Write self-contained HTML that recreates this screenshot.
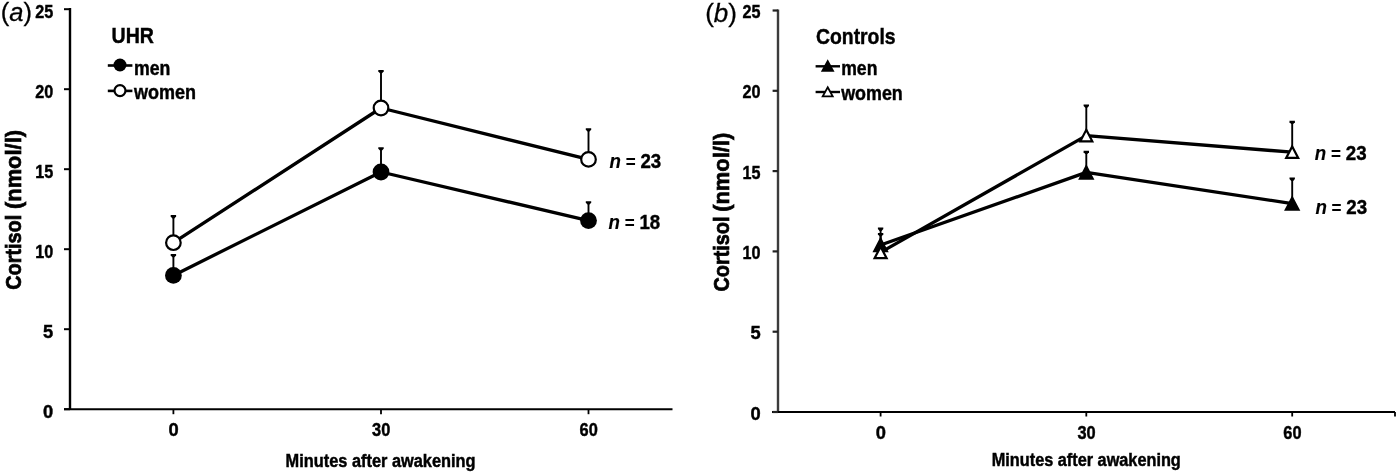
<!DOCTYPE html>
<html lang="en"><head><meta charset="utf-8"><title>Cortisol awakening response</title>
<style>html,body{margin:0;padding:0;background:#fff;}svg{display:block;filter:blur(0.45px);}text{font-family:'Liberation Sans', sans-serif;fill:#000;}</style></head><body>
<svg width="1400" height="474" viewBox="0 0 1400 474">
<rect width="1400" height="474" fill="#fff"/>
<g id="chart-a">
<path d="M70 8V409.2" stroke="#000" stroke-width="2.4" fill="none"/>
<path d="M64 409.2H672.5" stroke="#000" stroke-width="2" fill="none"/>
<path d="M64 409.2H70" stroke="#000" stroke-width="2"/>
<text x="53.2" y="417.8" font-size="19" text-anchor="end" font-weight="700" stroke="#000" stroke-width="0.45" textLength="10.2" lengthAdjust="spacingAndGlyphs" >0</text>
<path d="M64 329.2H70" stroke="#000" stroke-width="2"/>
<text x="53.2" y="337.8" font-size="19" text-anchor="end" font-weight="700" stroke="#000" stroke-width="0.45" textLength="10.2" lengthAdjust="spacingAndGlyphs" >5</text>
<path d="M64 249.2H70" stroke="#000" stroke-width="2"/>
<text x="53.2" y="257.8" font-size="19" text-anchor="end" font-weight="700" stroke="#000" stroke-width="0.45" textLength="18.0" lengthAdjust="spacingAndGlyphs" >10</text>
<path d="M64 169.2H70" stroke="#000" stroke-width="2"/>
<text x="53.2" y="177.8" font-size="19" text-anchor="end" font-weight="700" stroke="#000" stroke-width="0.45" textLength="18.0" lengthAdjust="spacingAndGlyphs" >15</text>
<path d="M64 89.19999999999999H70" stroke="#000" stroke-width="2"/>
<text x="53.2" y="97.8" font-size="19" text-anchor="end" font-weight="700" stroke="#000" stroke-width="0.45" textLength="18.0" lengthAdjust="spacingAndGlyphs" >20</text>
<path d="M64 9.199999999999989H70" stroke="#000" stroke-width="2"/>
<text x="53.2" y="17.8" font-size="19" text-anchor="end" font-weight="700" stroke="#000" stroke-width="0.45" textLength="18.0" lengthAdjust="spacingAndGlyphs" >25</text>
<path d="M173.4 409.2V414.2" stroke="#000" stroke-width="1.8"/>
<text x="173.6" y="436.0" font-size="19" text-anchor="middle" font-weight="700" stroke="#000" stroke-width="0.45" textLength="10.2" lengthAdjust="spacingAndGlyphs" >0</text>
<path d="M381.0 409.2V414.2" stroke="#000" stroke-width="1.8"/>
<text x="381.2" y="436.0" font-size="19" text-anchor="middle" font-weight="700" stroke="#000" stroke-width="0.45" textLength="18.2" lengthAdjust="spacingAndGlyphs" >30</text>
<path d="M588.5 409.2V414.2" stroke="#000" stroke-width="1.8"/>
<text x="588.7" y="436.0" font-size="19" text-anchor="middle" font-weight="700" stroke="#000" stroke-width="0.45" textLength="18.2" lengthAdjust="spacingAndGlyphs" >60</text>
<text x="285.6" y="466.8" font-size="17.5" font-weight="700" stroke="#000" stroke-width="0.45" textLength="190" lengthAdjust="spacingAndGlyphs" >Minutes after awakening</text>
<text x="0" y="0" font-size="22.4" font-weight="700" stroke="#000" textLength="75" lengthAdjust="spacingAndGlyphs" stroke-width="0.7" transform="translate(21.0 289.8) rotate(-90)">Cortisol</text>
<text x="0" y="0" font-size="22.4" font-weight="700" stroke="#000" textLength="79" lengthAdjust="spacingAndGlyphs" stroke-width="0.7" transform="translate(21.0 209) rotate(-90)">(nmol/l)</text>
<text x="0.7" y="21.1" font-size="25.5" stroke="#000" stroke-width="0.3">(<tspan font-style="italic">a</tspan>)</text>
<text x="111.6" y="43.1" font-size="22.8" font-weight="700" stroke="#000" stroke-width="0.45" textLength="42.4" lengthAdjust="spacingAndGlyphs" >UHR</text>
<path d="M107.8 65.5H132.4" stroke="#000" stroke-width="2.6"/>
<circle cx="120" cy="65" r="6.5" fill="#000"/>
<text x="133.9" y="74.7" font-size="20.5" font-weight="700" stroke="#000" stroke-width="0.45" textLength="36.4" lengthAdjust="spacingAndGlyphs" >men</text>
<path d="M107.8 90.9H132.4" stroke="#000" stroke-width="2.6"/>
<circle cx="120" cy="90.6" r="5.5" fill="#fff" stroke="#000" stroke-width="2.2"/>
<text x="133.9" y="99.3" font-size="20.5" font-weight="700" stroke="#000" stroke-width="0.45" textLength="62" lengthAdjust="spacingAndGlyphs" >women</text>
<path d="M173.4 216.0V242.7" stroke="#000" stroke-width="1.9" fill="none"/><path d="M170.70 215.10H176.10V216.60L174.40 218.40H172.40L170.70 216.60Z" fill="#000"/>
<path d="M381.0 70.9V108.0" stroke="#000" stroke-width="1.9" fill="none"/><path d="M378.30 70.00H383.70V71.50L382.00 73.30H380.00L378.30 71.50Z" fill="#000"/>
<path d="M588.5 129.1V159.4" stroke="#000" stroke-width="1.9" fill="none"/><path d="M585.80 128.20H591.20V129.70L589.50 131.50H587.50L585.80 129.70Z" fill="#000"/>
<path d="M173.4 254.8V275.4" stroke="#000" stroke-width="1.9" fill="none"/><path d="M170.70 253.90H176.10V255.40L174.40 257.20H172.40L170.70 255.40Z" fill="#000"/>
<path d="M381.0 148.2V172.0" stroke="#000" stroke-width="1.9" fill="none"/><path d="M378.30 147.30H383.70V148.80L382.00 150.60H380.00L378.30 148.80Z" fill="#000"/>
<path d="M588.5 202.1V220.6" stroke="#000" stroke-width="1.9" fill="none"/><path d="M585.80 201.20H591.20V202.70L589.50 204.50H587.50L585.80 202.70Z" fill="#000"/>
<polyline points="173.4,242.7 381.0,108.0 588.5,159.4" fill="none" stroke="#000" stroke-width="3.3" stroke-linejoin="round"/>
<polyline points="173.4,275.4 381.0,172.0 588.5,220.6" fill="none" stroke="#000" stroke-width="3.3" stroke-linejoin="round"/>
<circle cx="173.4" cy="242.7" r="7.3" fill="#fff" stroke="#000" stroke-width="2.2"/>
<circle cx="381.0" cy="108.0" r="7.3" fill="#fff" stroke="#000" stroke-width="2.2"/>
<circle cx="588.5" cy="159.4" r="7.3" fill="#fff" stroke="#000" stroke-width="2.2"/>
<circle cx="173.4" cy="275.4" r="8.4" fill="#000"/>
<circle cx="381.0" cy="172.0" r="8.4" fill="#000"/>
<circle cx="588.5" cy="220.6" r="8.4" fill="#000"/>
<text x="609.6" y="167.6" font-size="20.3" font-weight="700" textLength="51.6" stroke="#000" stroke-width="0.4" lengthAdjust="spacingAndGlyphs"><tspan font-style="italic" stroke-width="0.15">n</tspan><tspan font-size="18.5" stroke-width="0.1"> = </tspan>23</text>
<text x="608.6" y="229.4" font-size="20.3" font-weight="700" textLength="51.6" stroke="#000" stroke-width="0.4" lengthAdjust="spacingAndGlyphs"><tspan font-style="italic" stroke-width="0.15">n</tspan><tspan font-size="18.5" stroke-width="0.1"> = </tspan>18</text>
</g>
<g id="chart-b">
<path d="M778 9.5V412" stroke="#3c3c3c" stroke-width="2.4" fill="none"/>
<path d="M772 412H1395" stroke="#000" stroke-width="2" fill="none"/>
<path d="M772.6 412.0H778" stroke="#222" stroke-width="2.2"/>
<text x="760.6" y="419.5" font-size="19" text-anchor="end" font-weight="700" stroke="#000" stroke-width="0.45" textLength="10.2" lengthAdjust="spacingAndGlyphs" >0</text>
<path d="M772.6 331.7H778" stroke="#222" stroke-width="2.2"/>
<text x="760.6" y="339.2" font-size="19" text-anchor="end" font-weight="700" stroke="#000" stroke-width="0.45" textLength="10.2" lengthAdjust="spacingAndGlyphs" >5</text>
<path d="M772.6 251.4H778" stroke="#222" stroke-width="2.2"/>
<text x="760.6" y="258.9" font-size="19" text-anchor="end" font-weight="700" stroke="#000" stroke-width="0.45" textLength="18.0" lengthAdjust="spacingAndGlyphs" >10</text>
<path d="M772.6 171.1H778" stroke="#222" stroke-width="2.2"/>
<text x="760.6" y="178.6" font-size="19" text-anchor="end" font-weight="700" stroke="#000" stroke-width="0.45" textLength="18.0" lengthAdjust="spacingAndGlyphs" >15</text>
<path d="M772.6 90.8H778" stroke="#222" stroke-width="2.2"/>
<text x="760.6" y="98.3" font-size="19" text-anchor="end" font-weight="700" stroke="#000" stroke-width="0.45" textLength="18.0" lengthAdjust="spacingAndGlyphs" >20</text>
<path d="M772.6 10.5H778" stroke="#222" stroke-width="2.2"/>
<text x="760.6" y="18.0" font-size="19" text-anchor="end" font-weight="700" stroke="#000" stroke-width="0.45" textLength="18.0" lengthAdjust="spacingAndGlyphs" >25</text>
<path d="M880.6 412V416.5" stroke="#000" stroke-width="1.8"/>
<text x="880.8000000000001" y="439.0" font-size="19" text-anchor="middle" font-weight="700" stroke="#000" stroke-width="0.45" textLength="10.2" lengthAdjust="spacingAndGlyphs" >0</text>
<path d="M1086.3 412V416.5" stroke="#000" stroke-width="1.8"/>
<text x="1086.5" y="439.0" font-size="19" text-anchor="middle" font-weight="700" stroke="#000" stroke-width="0.45" textLength="18.2" lengthAdjust="spacingAndGlyphs" >30</text>
<path d="M1292.2 412V416.5" stroke="#000" stroke-width="1.8"/>
<text x="1292.4" y="439.0" font-size="19" text-anchor="middle" font-weight="700" stroke="#000" stroke-width="0.45" textLength="18.2" lengthAdjust="spacingAndGlyphs" >60</text>
<path d="M1395 412V416.5" stroke="#000" stroke-width="1.8"/>
<text x="991.8" y="465.8" font-size="17.5" font-weight="700" stroke="#000" stroke-width="0.45" textLength="189" lengthAdjust="spacingAndGlyphs" >Minutes after awakening</text>
<text x="0" y="0" font-size="22.4" font-weight="700" stroke="#000" textLength="75" lengthAdjust="spacingAndGlyphs" stroke-width="0.7" transform="translate(729.3 291.5) rotate(-90)">Cortisol</text>
<text x="0" y="0" font-size="22.4" font-weight="700" stroke="#000" textLength="79" lengthAdjust="spacingAndGlyphs" stroke-width="0.7" transform="translate(729.3 211.8) rotate(-90)">(nmol/l)</text>
<text x="705.2" y="22.0" font-size="26" stroke="#000" stroke-width="0.3">(<tspan font-style="italic">b</tspan>)</text>
<text x="816.0" y="43.7" font-size="22.8" font-weight="700" stroke="#000" stroke-width="0.45" textLength="79.6" lengthAdjust="spacingAndGlyphs" >Controls</text>
<path d="M815.6 66.3H840" stroke="#000" stroke-width="2.4"/>
<path d="M827.7 61.00L833.20 71.00H822.20Z" fill="#000" stroke="#000" stroke-width="1.6" stroke-linejoin="miter"/>
<text x="841.2" y="74.9" font-size="20.5" font-weight="700" stroke="#000" stroke-width="0.45" textLength="36.2" lengthAdjust="spacingAndGlyphs" >men</text>
<path d="M815.6 92H840" stroke="#000" stroke-width="2.4"/>
<path d="M827.7 87.30L832.70 96.30H822.70Z" fill="#fff" stroke="#000" stroke-width="1.8" stroke-linejoin="miter"/>
<text x="841.2" y="100.2" font-size="20.5" font-weight="700" stroke="#000" stroke-width="0.45" textLength="61.6" lengthAdjust="spacingAndGlyphs" >women</text>
<path d="M880.6 233.8V252.4" stroke="#000" stroke-width="1.9" fill="none"/><path d="M877.90 232.90H883.30V234.40L881.60 236.20H879.60L877.90 234.40Z" fill="#000"/>
<path d="M1086.3 105.3V135.6" stroke="#000" stroke-width="1.9" fill="none"/><path d="M1083.60 104.40H1089.00V105.90L1087.30 107.70H1085.30L1083.60 105.90Z" fill="#000"/>
<path d="M1292.2 121.6V152.2" stroke="#000" stroke-width="1.9" fill="none"/><path d="M1289.50 120.70H1294.90V122.20L1293.20 124.00H1291.20L1289.50 122.20Z" fill="#000"/>
<path d="M880.6 228.5V245.0" stroke="#000" stroke-width="1.9" fill="none"/><path d="M877.90 227.60H883.30V229.10L881.60 230.90H879.60L877.90 229.10Z" fill="#000"/>
<path d="M1086.3 151.6V172.4" stroke="#000" stroke-width="1.9" fill="none"/><path d="M1083.60 150.70H1089.00V152.20L1087.30 154.00H1085.30L1083.60 152.20Z" fill="#000"/>
<path d="M1292.2 178.5V203.6" stroke="#000" stroke-width="1.9" fill="none"/><path d="M1289.50 177.60H1294.90V179.10L1293.20 180.90H1291.20L1289.50 179.10Z" fill="#000"/>
<polyline points="880.6,252.4 1086.3,135.6 1292.2,152.2" fill="none" stroke="#000" stroke-width="3.3" stroke-linejoin="round"/>
<polyline points="880.6,245.0 1086.3,172.4 1292.2,203.6" fill="none" stroke="#000" stroke-width="3.3" stroke-linejoin="round"/>
<path d="M880.6 238.75L887.10 251.25H874.10Z" fill="#000" stroke="#000" stroke-width="2" stroke-linejoin="miter"/>
<path d="M1086.3 166.15L1092.80 178.65H1079.80Z" fill="#000" stroke="#000" stroke-width="2" stroke-linejoin="miter"/>
<path d="M1292.2 197.35L1298.70 209.85H1285.70Z" fill="#000" stroke="#000" stroke-width="2" stroke-linejoin="miter"/>
<path d="M880.6 246.65L886.60 258.15H874.60Z" fill="#fff" stroke="#000" stroke-width="2.2" stroke-linejoin="miter"/>
<path d="M1086.3 129.85L1092.30 141.35H1080.30Z" fill="#fff" stroke="#000" stroke-width="2.2" stroke-linejoin="miter"/>
<path d="M1292.2 146.45L1298.20 157.95H1286.20Z" fill="#fff" stroke="#000" stroke-width="2.2" stroke-linejoin="miter"/>
<text x="1314.8" y="160.0" font-size="20.3" font-weight="700" textLength="51.8" stroke="#000" stroke-width="0.4" lengthAdjust="spacingAndGlyphs"><tspan font-style="italic" stroke-width="0.15">n</tspan><tspan font-size="18.5" stroke-width="0.1"> = </tspan>23</text>
<text x="1315.4" y="214.2" font-size="20.3" font-weight="700" textLength="51.8" stroke="#000" stroke-width="0.4" lengthAdjust="spacingAndGlyphs"><tspan font-style="italic" stroke-width="0.15">n</tspan><tspan font-size="18.5" stroke-width="0.1"> = </tspan>23</text>
</g>
</svg></body></html>
